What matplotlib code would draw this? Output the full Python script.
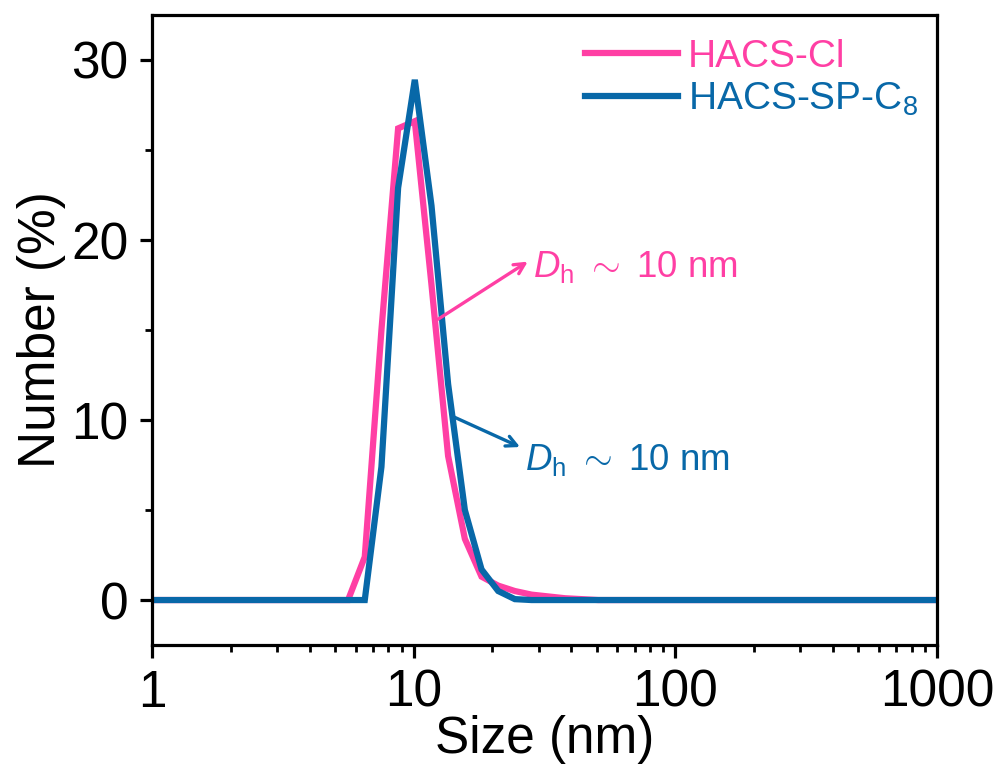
import numpy as np
import matplotlib
matplotlib.use('Agg')
import matplotlib.pyplot as plt

plt.rcParams['font.family'] = ['Liberation Sans', 'DejaVu Sans']
plt.rcParams['mathtext.fontset'] = 'custom'
plt.rcParams['mathtext.rm'] = 'Liberation Sans'
plt.rcParams['mathtext.it'] = 'Liberation Sans:italic'

# DLS size bins (nm)
size_nm = [0.9649, 1.117, 1.294, 1.499, 1.736, 2.010, 2.328, 2.696, 3.122, 3.615,
           4.187, 4.849, 5.615, 6.503, 7.531, 8.721, 10.10, 11.70, 13.54, 15.69,
           18.17, 21.04, 24.36, 28.21, 32.67, 37.84, 43.82, 50.75, 58.77, 68.06,
           78.82, 91.28, 105.7, 122.4, 141.8, 164.2, 190.1, 220.2, 255.0, 295.3,
           342.0, 396.1, 458.7, 531.2, 615.1, 712.4, 825.0, 955.4, 1106]

# number distribution (%)
hacs_cl = [0, 0, 0, 0, 0, 0, 0, 0, 0, 0,
           0, 0, 0, 2.4, 15.0, 26.2, 26.6, 17.5, 8.0, 3.4,
           1.3, 0.8, 0.5, 0.3, 0.2, 0.1, 0.05, 0, 0, 0,
           0, 0, 0, 0, 0, 0, 0, 0, 0, 0,
           0, 0, 0, 0, 0, 0, 0, 0, 0]
hacs_sp_c8 = [0, 0, 0, 0, 0, 0, 0, 0, 0, 0,
              0, 0, 0, 0, 7.4, 22.9, 28.9, 21.9, 12.0, 5.0,
              1.7, 0.5, 0.05, 0, 0, 0, 0, 0, 0, 0,
              0, 0, 0, 0, 0, 0, 0, 0, 0, 0,
              0, 0, 0, 0, 0, 0, 0, 0, 0]

series_labels = ['HACS-Cl', 'HACS-SP-C$_8$']
pink = '#FF3FA4'
blue = '#0868A8'

fig = plt.figure(figsize=(10, 7.69), dpi=100)
ax = fig.add_axes([0.152, 0.1612, 0.785, 0.8193])

ax.plot(size_nm, hacs_cl, color=pink, lw=4.5, label=series_labels[0], solid_joinstyle='miter')
ax.plot(size_nm, hacs_sp_c8, color=blue, lw=4.5, label=series_labels[1], solid_joinstyle='miter')

ax.set_xscale('log')
ax.set_xlim(1, 1000)
ax.set_ylim(-2.5, 32.5)
ax.set_xticks([1, 10, 100, 1000])
ax.set_xticklabels(['1', '10', '100', '1000'])
ax.set_yticks([0, 10, 20, 30])
ax.set_yticks([5, 15, 25], minor=True)

for s in ax.spines.values():
    s.set_linewidth(2.3)
ax.tick_params(which='major', direction='out', length=9, width=2.3, labelsize=37,
               top=False, right=False, pad=8)
ax.tick_params(which='minor', direction='out', length=5, width=2.0, top=False, right=False)

ax.set_xlabel('Size (nm)', fontsize=37, labelpad=-2)
ax.set_ylabel('Number (%)', fontsize=37, labelpad=4)

# D_h annotations with arrows
pink_arrow = ((12.4, 15.6), (27.3, 18.8))
blue_arrow = ((14.1, 10.2), (25.5, 8.5))
for (start, tip), col in [(pink_arrow, pink), (blue_arrow, blue)]:
    ax.annotate('', xy=tip, xytext=start,
                arrowprops=dict(arrowstyle='->,head_length=0.75,head_width=0.38',
                                color=col, lw=2.4, shrinkA=0, shrinkB=0))
dh_text = r'$\mathit{D}_\mathrm{h}$ $\sim$ 10 nm'
ax.text(28.6, 18.5, dh_text, color=pink, fontsize=26.5, va='center')
ax.text(26.6, 7.8, dh_text, color=blue, fontsize=26.5, va='center')

leg = ax.legend(loc='upper left', bbox_to_anchor=(0.5516, 0.962), frameon=False,
                fontsize=28, handlelength=2.4, handletextpad=0.25, labelspacing=0.15,
                labelcolor='linecolor', borderaxespad=0, borderpad=0)

fig.savefig('out.png', dpi=100)
